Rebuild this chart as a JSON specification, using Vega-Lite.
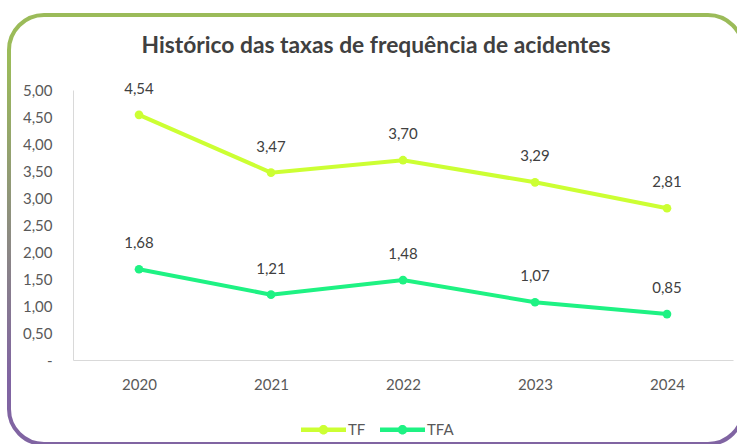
{
  "$schema": "https://vega.github.io/schema/vega-lite/v6.json",
  "width": 734,
  "height": 429,
  "padding": {"left": 9, "top": 15, "right": 0, "bottom": 0},
  "autosize": {"type": "none"},
  "background": "white",
  "title": {
    "text": "Histórico das taxas de frequência de acidentes",
    "font": "Lato",
    "fontSize": 22.8,
    "fontWeight": "bold",
    "color": "#404040",
    "anchor": "middle",
    "frame": "group",
    "offset": -61,
    "baseline": "alphabetic"
  },
  "config": {
    "font": "Lato",
    "locale": {"number": {"decimal": ",", "thousands": ".", "grouping": [3], "currency": ["", ""]}},
    "view": {
      "stroke": {
        "gradient": "linear",
        "x1": 0, "y1": 0, "x2": 0, "y2": 1,
        "stops": [
          {"offset": 0, "color": "#9BBB59"},
          {"offset": 0.1, "color": "#9BBB59"},
          {"offset": 0.85, "color": "#8064A2"},
          {"offset": 1, "color": "#8064A2"}
        ]
      },
      "strokeWidth": 4,
      "cornerRadius": 35,
      "fill": "white"
    }
  },
  "data": {
    "values": [
      {"ano": "2020", "serie": "TF", "valor": 4.54},
      {"ano": "2021", "serie": "TF", "valor": 3.47},
      {"ano": "2022", "serie": "TF", "valor": 3.70},
      {"ano": "2023", "serie": "TF", "valor": 3.29},
      {"ano": "2024", "serie": "TF", "valor": 2.81},
      {"ano": "2020", "serie": "TFA", "valor": 1.68},
      {"ano": "2021", "serie": "TFA", "valor": 1.21},
      {"ano": "2022", "serie": "TFA", "valor": 1.48},
      {"ano": "2023", "serie": "TFA", "valor": 1.07},
      {"ano": "2024", "serie": "TFA", "valor": 0.85}
    ]
  },
  "encoding": {
    "x": {
      "field": "ano",
      "type": "ordinal",
      "scale": {"type": "point", "padding": 0.5, "range": [64, 724]},
      "axis": {
        "title": null,
        "offset": -84,
        "domainColor": "#D9D9D9",
        "domainWidth": 1,
        "ticks": false,
        "tickSize": 0,
        "labelPadding": 17,
        "labelFontSize": 15,
        "labelColor": "#595959",
        "labelAngle": 0
      }
    },
    "y": {
      "field": "valor",
      "type": "quantitative",
      "scale": {"domain": [0, 5], "range": [345, 75]},
      "axis": {
        "title": null,
        "offset": -64,
        "values": [0, 0.5, 1, 1.5, 2, 2.5, 3, 3.5, 4, 4.5, 5],
        "labelExpr": "datum.value == 0 ? '-\u00a0\u00a0\u00a0\u00a0' : replace(format(datum.value, '.2f'), '.', ',')",
        "grid": false,
        "ticks": false,
        "tickSize": 0,
        "domainColor": "#D9D9D9",
        "domainWidth": 1,
        "labelPadding": 21,
        "labelFontSize": 15,
        "labelColor": "#595959"
      }
    },
    "color": {
      "field": "serie",
      "type": "nominal",
      "scale": {"domain": ["TF", "TFA"], "range": ["#CCFF33", "#1EF283"]},
      "legend": {
        "orient": "none",
        "legendX": 292,
        "legendY": 392,
        "direction": "horizontal",
        "title": null,
        "symbolType": "M-1,-0.1L1,-0.1L1,0.1L-1,0.1Z M0.21,0A0.21,0.21 0 1,1 -0.21,0A0.21,0.21 0 1,1 0.21,0Z",
        "symbolSize": 2025,
        "symbolStrokeWidth": 0,
        "labelFontSize": 15,
        "labelColor": "#595959",
        "labelOffset": 2,
        "columnPadding": 14,
        "encode": {"symbols": {"update": {"fill": {"scale": "color", "field": "value"}, "opacity": {"value": 1}}}}
      }
    }
  },
  "layer": [
    {"mark": {"type": "line", "strokeWidth": 4}},
    {"mark": {"type": "point", "filled": true, "size": 75, "opacity": 1}},
    {
      "mark": {"type": "text", "dy": -26, "fontSize": 15, "baseline": "middle"},
      "encoding": {
        "text": {"field": "valor", "type": "quantitative", "format": ".2f"},
        "color": {"value": "#404040"}
      }
    }
  ]
}
